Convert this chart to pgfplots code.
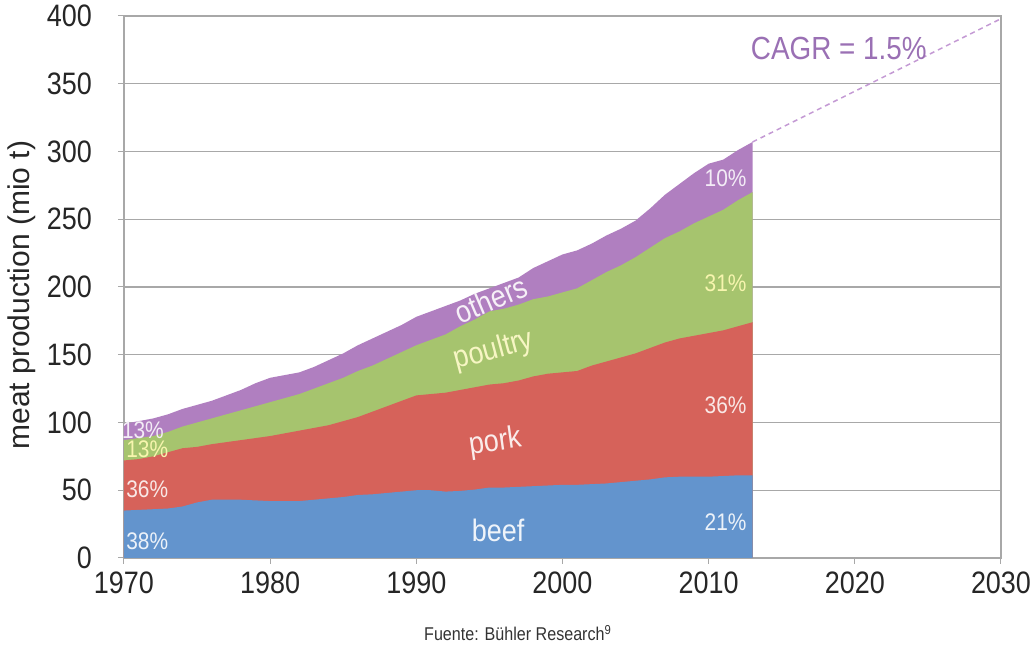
\documentclass[border=0pt]{standalone}
\usepackage{fontspec}
\setmainfont[FakeStretch=0.87]{Liberation Sans}
\newfontfamily\labelfont{Liberation Sans}
\usepackage{pgfplots}
\usepackage{pgfplotstable}
\pgfplotsset{compat=1.18}

\definecolor{beefc}{HTML}{6394CD}
\definecolor{porkc}{HTML}{D6625A}
\definecolor{poultryc}{HTML}{A6C46E}
\definecolor{othersc}{HTML}{B07FC0}
\definecolor{gridc}{HTML}{A8A8A8}
\definecolor{cagrc}{HTML}{9A70B4}
\definecolor{cagrline}{HTML}{C49AD4}

% World meat production, mio t; each column is the running total up to that type
\pgfplotstableread{
year beef pork poultry total
1970 35   72  87  99
1971 35.5 73  88.5 101
1972 36   75  90  103
1973 36.5 78  93  106
1974 38   81  97  110
1975 41   82  100 113
1976 43   84  103 116
1977 43   85.5 106 120
1978 43   87  109 124
1979 42.5 88.5 112 129
1980 42   90  115 133
1981 42   92  118 135
1982 42   94  121 137
1983 43   96  125 141
1984 44   98  129 146
1985 45   101 133 151
1986 46.5 104 138 157
1987 47   108 142 162
1988 48   112 147 167
1989 49   116 152 172
1990 50   120 157 178
1991 50   121 161 182
1992 49   122 165 186
1993 49.5 124 171 190
1994 50.5 126 176 195
1995 52   128 182 199
1996 52   129 184 203
1997 52.5 131 187 207
1998 53   134 191 214
1999 53.5 136 193 219
2000 54   137 196 224
2001 54   138 199 227
2002 54.5 142 205 232
2003 55   145 211 238
2004 56   148 216 243
2005 57   151 222 249
2006 58   155 229 258
2007 59.5 159 236 268
2008 60   162 241 276
2009 60   164 247 284
2010 60   166 252 291
2011 60.5 168 257 294
2012 61   171 264 301
2013 61   174 270 307
}\meat

\begin{document}
\begin{tikzpicture}
\useasboundingbox (-124pt,-97pt) rectangle (912pt,558pt);
\begin{axis}[
  scale only axis,
  width=877pt, height=542pt,
  xmin=1970, xmax=2030, ymin=0, ymax=400,
  xtick={1970,1980,1990,2000,2010,2020,2030},
  xticklabels={1970,1980,1990,2000,2010,2020,2030},
  ytick={0,50,100,150,200,250,300,350,400},
  yticklabels={0,50,100,150,200,250,300,350,400},
  xtick pos=bottom, ytick pos=left,
  tick align=outside, major tick length=6pt,
  tick style={draw=gridc, line width=1pt},
  ymajorgrids,
  grid style={draw=gridc, line width=1.3pt},
  axis line style={draw=gridc, line width=1.3pt},
  ticklabel style={font=\fontsize{31}{35}\selectfont, text=black!85},
  yticklabel style={inner sep=0pt, anchor=east, xshift=-26pt},
  xticklabel style={inner sep=0pt, anchor=north, yshift=-8pt},
  ylabel={meat production (mio t)},
  ylabel style={font=\labelfont\fontsize{30}{34}\selectfont, text=black!85,
    at={(axis description cs:-0.1163,0.485)}, anchor=center},
  clip=false,
]
\addplot[fill=othersc, draw=none] table[x=year, y=total] {\meat} \closedcycle;
\addplot[fill=poultryc, draw=none] table[x=year, y=poultry] {\meat} \closedcycle;
\addplot[fill=porkc, draw=none] table[x=year, y=pork] {\meat} \closedcycle;
\addplot[fill=beefc, draw=none] table[x=year, y=beef] {\meat} \closedcycle;

% projected growth at 1.5% per year
\addplot[draw=cagrline, line width=1.5pt, dash pattern=on 5pt off 4pt]
  coordinates {(2013,307) (2030,398)};

% shares in 1970
\begin{scope}[every node/.style={font=\fontsize{24}{28}\selectfont, inner sep=0pt}]
\node[anchor=west, text=white!88!beefc]    at (axis cs:1970.15,12.5) {38\%};
\node[anchor=west, text=white!85!porkc]    at (axis cs:1970.15,51) {36\%};
\node[anchor=west, text=white!70!yellow!90!poultryc] at (axis cs:1970.15,80) {13\%};
\node[anchor=west, text=white!85!othersc]  at (axis cs:1969.85,94) {13\%};
% shares in 2013
\node[anchor=east, text=white!88!beefc]    at (axis cs:2012.6,26.6) {21\%};
\node[anchor=east, text=white!85!porkc]    at (axis cs:2012.6,113) {36\%};
\node[anchor=east, text=white!70!yellow!90!poultryc] at (axis cs:2012.6,203) {31\%};
\node[anchor=east, text=white!85!othersc]  at (axis cs:2012.6,280) {10\%};
\end{scope}

% meat types
\begin{scope}[every node/.style={font=\fontsize{31}{35}\selectfont, inner sep=0pt}]
\node[text=white!90!beefc] at (axis cs:1995.6,20.7) {beef};
\node[text=white!88!porkc, rotate=8] at (axis cs:1995.4,85) {pork};
\node[text=white!80!yellow!90!poultryc, rotate=15] at (axis cs:1995.3,153) {poultry};
\node[text=white!88!othersc, rotate=23] at (axis cs:1995.1,191) {others};
\end{scope}

\node[text=cagrc, font=\fontsize{32}{36}\selectfont, inner sep=0pt]
  at (axis cs:2018.9,376) {CAGR = 1.5\%};

\node[text=black!80, font=\fontsize{18.5}{22}\selectfont, inner sep=0pt]
  at (rel axis cs:0.449,-0.138) {Fuente: Bühler Research\textsuperscript{9}};
\end{axis}
\end{tikzpicture}
\end{document}
